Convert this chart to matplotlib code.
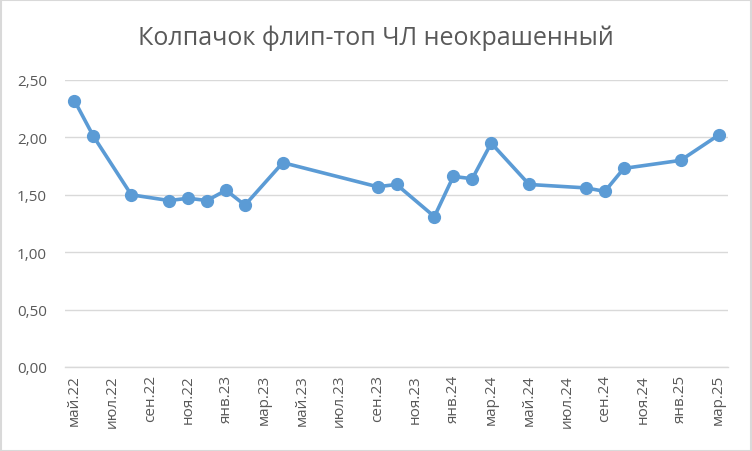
import matplotlib
matplotlib.use('Agg')
import matplotlib.pyplot as plt
import pandas as pd
from matplotlib.patches import Rectangle

# ==================== DATA ====================
dates = ['2022-05', '2022-06', '2022-08', '2022-10', '2022-11', '2022-12',
         '2023-01', '2023-02', '2023-04', '2023-09', '2023-10', '2023-12',
         '2024-01', '2024-02', '2024-03', '2024-05', '2024-08', '2024-09',
         '2024-10', '2025-01', '2025-03']
prices = [2.32, 2.01, 1.50, 1.45, 1.47, 1.45,
          1.54, 1.41, 1.78, 1.57, 1.59, 1.31,
          1.66, 1.64, 1.95, 1.59, 1.56, 1.53,
          1.73, 1.80, 2.02]
month_names = ['янв', 'фев', 'мар', 'апр', 'май', 'июн',
               'июл', 'авг', 'сен', 'окт', 'ноя', 'дек']
y_ticks = [0, 0.5, 1.0, 1.5, 2.0, 2.5]
title = 'Колпачок флип-топ ЧЛ неокрашенный'

# month index relative to first date (Excel date axis, base unit = month)
periods = pd.PeriodIndex(dates, freq='M')
start = periods[0]
x = [(p - start).n for p in periods]
n_months = (periods[-1] - start).n

tick_periods = pd.period_range(start, periods[-1], freq='M')[::2]
tick_x = [(p - start).n for p in tick_periods]
tick_labels = [f"{month_names[p.month - 1]}.{p.year % 100:02d}" for p in tick_periods]

# ==================== PLOT ====================
plt.rcParams['font.family'] = ['Open Sans', 'DejaVu Sans']
text_color = '#595959'
grid_color = '#D9D9D9'
line_color = '#5B9BD5'

fig = plt.figure(figsize=(7.52, 4.52), dpi=100)
ax = fig.add_axes([65 / 752, 84 / 452, 663 / 752, 287 / 452])

ax.plot(x, prices, color=line_color, linewidth=2.6, marker='o',
        markersize=8.5, markerfacecolor=line_color, markeredgecolor=line_color,
        solid_capstyle='round', zorder=3)

ax.set_xlim(-0.5, n_months + 0.5)
ax.set_ylim(0, 2.5)
ax.set_yticks(y_ticks)
ax.set_yticklabels([f"{v:.2f}".replace('.', ',') for v in y_ticks])
ax.set_xticks(tick_x)
ax.set_xticklabels(tick_labels, rotation=90)

ax.grid(True, axis='y', color=grid_color, linewidth=1)
ax.set_axisbelow(True)
for side in ['top', 'right', 'left']:
    ax.spines[side].set_visible(False)
ax.spines['bottom'].set_color(grid_color)
ax.spines['bottom'].set_linewidth(1)
ax.tick_params(axis='both', length=0, colors=text_color, labelsize=11)
ax.tick_params(axis='y', pad=13)
ax.tick_params(axis='x', pad=5)

fig.text(0.5, 1 - 38 / 452, title, ha='center', va='center',
         fontsize=18, color=text_color)

# chart border
fig.patches.append(Rectangle((0.001, 0.001), 0.998, 0.997, transform=fig.transFigure,
                             fill=False, edgecolor=grid_color, linewidth=1.5))

fig.savefig('out.png', dpi=100)
plt.close(fig)
